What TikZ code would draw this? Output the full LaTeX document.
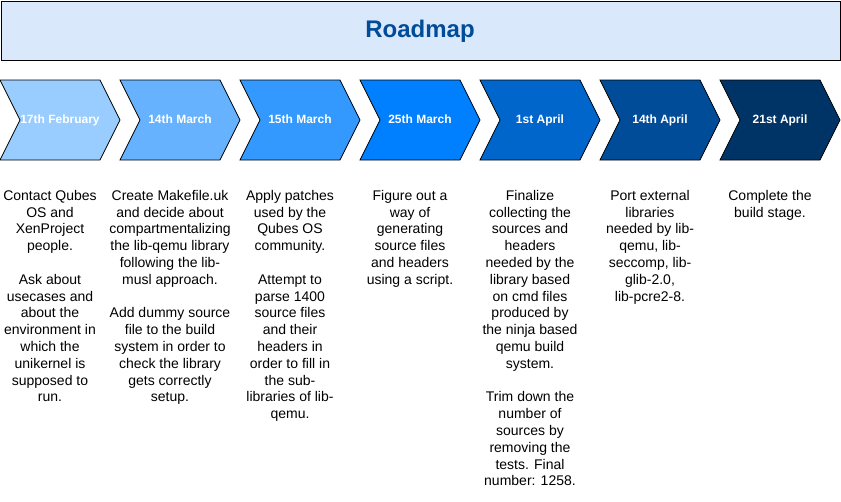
\documentclass[tikz,border=0pt]{standalone}
\usepackage{fontspec}
\setmainfont{Liberation Sans}
\definecolor{titlefill}{HTML}{DAE8FC}
\definecolor{titleink}{HTML}{004C99}
\definecolor{stepA}{HTML}{99CCFF}
\definecolor{stepB}{HTML}{66B2FF}
\definecolor{stepC}{HTML}{3399FF}
\definecolor{stepD}{HTML}{007FFF}
\definecolor{stepE}{HTML}{0066CC}
\definecolor{stepF}{HTML}{004C99}
\definecolor{stepG}{HTML}{003366}
\begin{document}
\begin{tikzpicture}[x=1pt,y=-1pt,
  chevron/.style={draw=black,line width=0.8pt,line join=miter},
  datelabel/.style={text=white,inner sep=0pt,anchor=base,
    font=\fontsize{12}{14.4}\selectfont\bfseries},
  notes/.style={anchor=north,inner sep=0pt,align=center,
    font=\fontsize{14}{16.8}\selectfont}]
\useasboundingbox (0,0) rectangle (841,501);

% title banner
\node[draw=black,line width=1pt,fill=titlefill,minimum width=839.5pt,
  minimum height=59.5pt,inner sep=0pt,anchor=north west] (banner) at (0.5,0.5) {};
\node[anchor=base,inner sep=0pt,text=titleink,
  font=\fontsize{24}{28}\selectfont\bfseries] (title) at (420,37.5) {Roadmap};

% timeline chevrons with their dates
\foreach \i/\col/\txt in {0/stepA/17th February,1/stepB/14th March,
  2/stepC/15th March,3/stepD/25th March,4/stepE/1st April,
  5/stepF/14th April,6/stepG/21st April}{
  \pgfmathsetmacro{\xo}{120*\i}
  \draw[chevron,fill=\col] (\xo,80) -- ++(100,0) -- ++(20,40) -- ++(-20,40)
    -- ++(-100,0) -- ++(20,-40) -- cycle;
  \node[datelabel] (date\i) at (\xo+60,123) {\txt};
}

% milestone descriptions
\node[notes] (note0) at (50,189) {\rule{0pt}{11pt}Contact Qubes\\OS and\\XenProject\\people.\\[16.8pt]
  Ask about\\usecases and\\about the\\environment in\\which the\\unikernel is\\supposed to\\run.};
\node[notes] (note1) at (170,189) {\rule{0pt}{11pt}Create Makefile.uk\\and decide about\\compartmentalizing\\the lib-qemu library\\following the lib-\\musl approach.\\[16.8pt]
  Add dummy source\\file to the build\\system in order to\\check the library\\gets correctly\\setup.};
\node[notes] (note2) at (290,189) {\rule{0pt}{11pt}Apply patches\\used by the\\Qubes OS\\community.\\[16.8pt]
  Attempt to\\parse 1400\\source files\\and their\\headers in\\order to fill in\\the sub-\\libraries of lib-\\qemu.};
\node[notes] (note3) at (410,189) {\rule{0pt}{11pt}Figure out a\\way of\\generating\\source files\\and headers\\using a script.};
\node[notes] (note4) at (530,189) {\rule{0pt}{11pt}Finalize\\collecting the\\sources and\\headers\\needed by the\\library based\\on cmd files\\produced by\\the ninja based\\qemu build\\system.\\[16.8pt]
  Trim down the\\number of\\sources by\\removing the\\tests. Final\\number: 1258.};
\node[notes] (note5) at (650,189) {\rule{0pt}{11pt}Port external\\libraries\\needed by lib-\\qemu, lib-\\seccomp, lib-\\glib-2.0,\\lib-pcre2-8.};
\node[notes] (note6) at (770,189) {\rule{0pt}{11pt}Complete the\\build stage.};
\end{tikzpicture}
\end{document}
